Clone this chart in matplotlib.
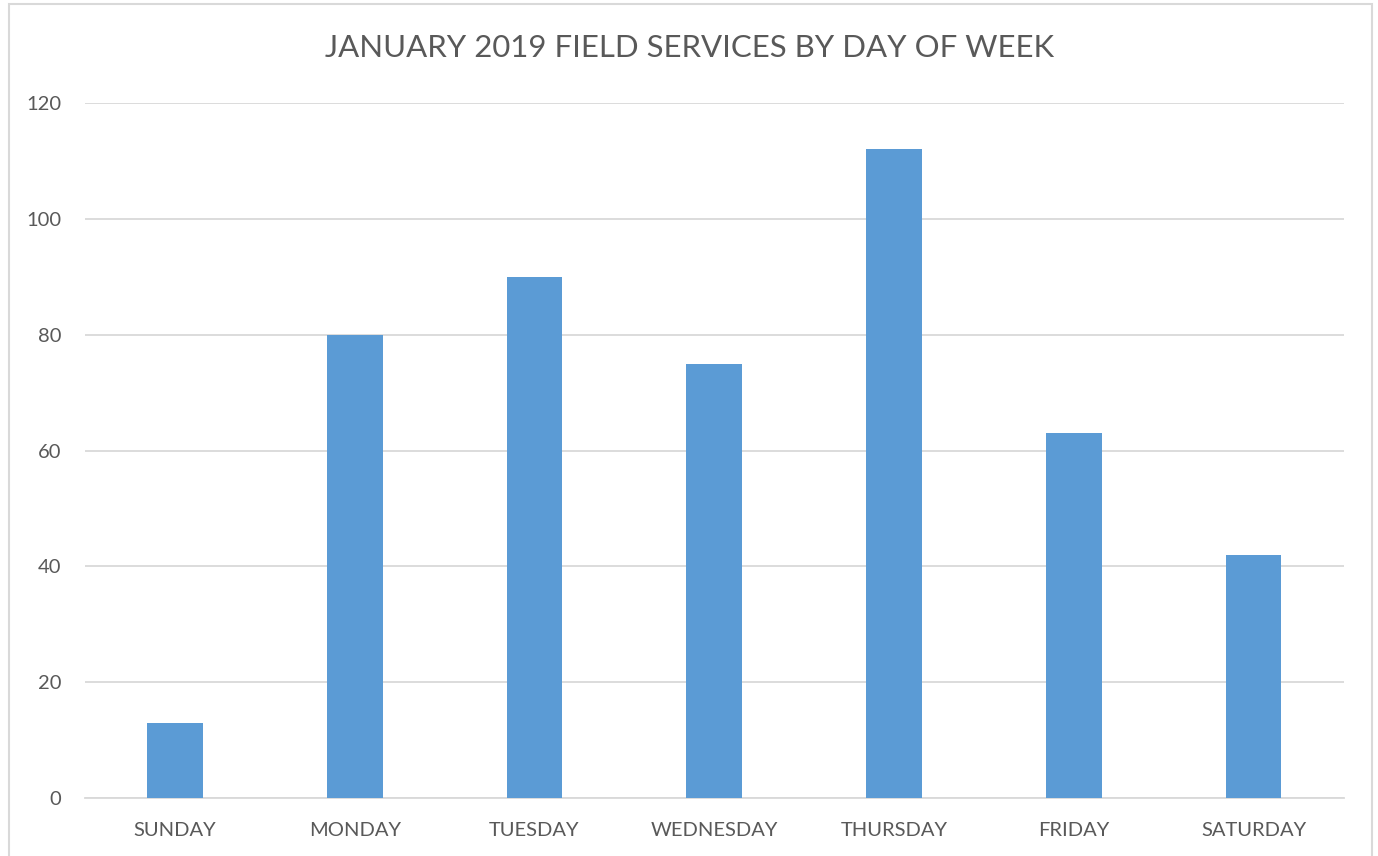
import matplotlib
matplotlib.use('Agg')
import matplotlib.pyplot as plt
from matplotlib.patches import Rectangle

days = ['SUNDAY', 'MONDAY', 'TUESDAY', 'WEDNESDAY', 'THURSDAY', 'FRIDAY', 'SATURDAY']
services = [13, 80, 90, 75, 112, 63, 42]
y_ticks = [0, 20, 40, 60, 80, 100, 120]

plt.rcParams['font.family'] = ['Lato', 'DejaVu Sans']
text_col = '#595959'
grid_col = '#D9D9D9'

W, H = 1378, 856
fig = plt.figure(figsize=(W / 100, H / 100), dpi=100)
ax = fig.add_axes([85 / W, (H - 798) / H, (1343.5 - 85) / W, (798 - 103) / H])

x = range(len(days))
ax.bar(x, services, width=0.31, color='#5B9BD5', zorder=3)

ax.set_xlim(-0.5, len(days) - 0.5)
ax.set_ylim(0, 120)
ax.set_yticks(y_ticks)
ax.set_xticks(list(x))
ax.set_xticklabels(days)
ax.grid(axis='y', color=grid_col, linewidth=1.3, zorder=0)
for s in ['top', 'right', 'left']:
    ax.spines[s].set_visible(False)
ax.spines['bottom'].set_color(grid_col)
ax.spines['bottom'].set_linewidth(1.3)
ax.tick_params(length=0, colors=text_col, labelsize=14.5)
ax.tick_params(axis='x', pad=17.5)
ax.tick_params(axis='y', pad=17)

fig.text(690 / W, 1 - 48 / H, 'JANUARY 2019 FIELD SERVICES BY DAY OF WEEK',
         ha='center', va='center', fontsize=22.4, color=text_col)

# chart-area border
fig.patches.append(Rectangle((9 / W, -0.05), (1372 - 9) / W, 1.05 - 4 / H,
                             transform=fig.transFigure, fill=False,
                             edgecolor=grid_col, linewidth=1.5))

fig.savefig('out.png', dpi=100)
